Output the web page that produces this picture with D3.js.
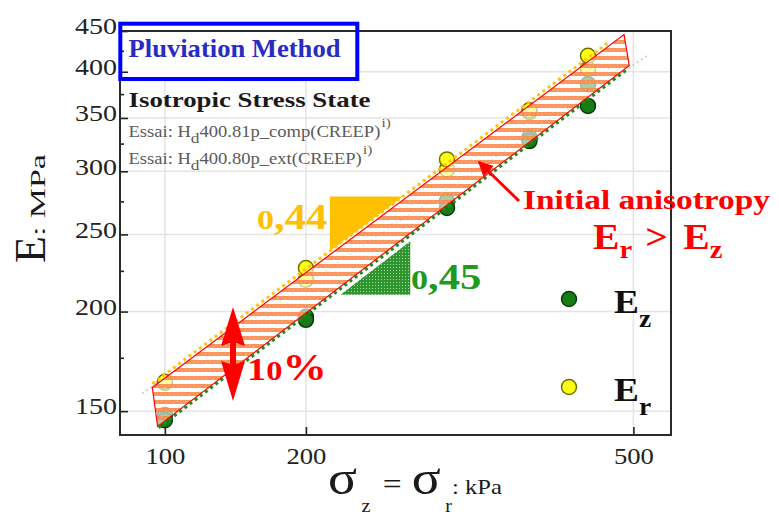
<!DOCTYPE html>
<html>
<head>
<meta charset="utf-8">
<script src="https://cdn.jsdelivr.net/npm/d3@7/dist/d3.min.js"></script>
<style>
  html, body { margin: 0; padding: 0; background: #fff; }
  svg { display: block; }
</style>
</head>
<body>
<svg id="chart" width="779" height="519"></svg>
<script>
// ---- data -------------------------------------------------------------
// confining stress levels of the creep tests (kPa)
const stress = [100, 200, 400, 600, 800];
// test Hd400.81p_comp : radial and vertical moduli (MPa)
const ErComp = [163.3, 226.8, 310.5, 358.0, 418.9];
const EzComp = [146.1, 195.3, 269.9, 327.4, 362.4];
// test Hd400.80p_ext
const ErExt = [162.7, 219.3, 301.6, 356.0, 403.0];
const EzExt = [148.3, 197.0, 275.2, 331.0, 385.9];

// power-law exponents of the fits E = A (sigma/100)^n
const slopeEr = 0.44;
const slopeEz = 0.45;
const slopeLabels = ["0,44", "0,45"];

// axis ticks
const xTickValues = [100, 200, 1000];
const xTickLabels = ["100", "200", "500"];
const yTickValues = [150, 200, 250, 300, 350, 400, 450];
const yMinorTicks = [175, 225, 275, 325, 375, 425];

// ---- layout ------------------------------------------------------------
const svg = d3.select("#chart");
const m = { left: 120, right: 671, top: 31, bottom: 435 };
const serif = "'Liberation Serif', 'Times New Roman', serif";

const x = d3.scaleLog().domain([80.2, 1203]).range([m.left, m.right]);
const y = d3.scaleLog().domain([140, 450]).range([m.bottom, m.top]);

// fitted curves
const fitEr = s => 166.8 * Math.pow(s / 100, slopeEr);
const fitEz = s => 144.9 * Math.pow(s / 100, slopeEz);
const bandTop = s => 165.0 * Math.pow(s / 100, slopeEr);
const bandBot = s => 145.8 * Math.pow(s / 100, slopeEz);
const refLine = s => 165.0 * Math.pow(s / 100, 0.393);

const defs = svg.append("defs");
const stripes = defs.append("pattern").attr("id", "stripes")
  .attr("patternUnits", "userSpaceOnUse").attr("width", 8).attr("height", 8);
stripes.append("rect").attr("width", 8).attr("height", 8)
  .attr("fill", "#fff").attr("fill-opacity", 0.62);
stripes.append("rect").attr("width", 8).attr("height", 4)
  .attr("fill", "#fa8a4e").attr("fill-opacity", 0.92);
stripes.append("rect").attr("x", 1).attr("y", 1).attr("width", 1).attr("height", 1)
  .attr("fill", "#ffc09a");
stripes.append("rect").attr("x", 5).attr("y", 2).attr("width", 1).attr("height", 1)
  .attr("fill", "#ffc09a");

const stipple = defs.append("pattern").attr("id", "stipple")
  .attr("patternUnits", "userSpaceOnUse").attr("width", 3).attr("height", 3);
stipple.append("rect").attr("width", 3).attr("height", 3).attr("fill", "#2f962f");
stipple.append("rect").attr("width", 1).attr("height", 1).attr("fill", "#a6d8a6");

defs.append("marker").attr("id", "head").attr("viewBox", "0 0 10 10")
  .attr("refX", 9).attr("refY", 5).attr("markerWidth", 5).attr("markerHeight", 5)
  .attr("orient", "auto")
  .append("path").attr("d", "M0,0 L10,5 L0,10 z").attr("fill", "#ff0000");

// text helper: horizontally widened text anchored at (px, py)
function wideText(px, py, sx) {
  return svg.append("text")
    .attr("transform", `translate(${px},${py}) scale(${sx},1)`)
    .attr("font-family", serif);
}

// ---- grid --------------------------------------------------------------
const grid = svg.append("g").attr("stroke", "#e4e4e4").attr("stroke-width", 1.5);
grid.selectAll("line.h").data(yTickValues.slice(0, -1)).join("line")
  .attr("x1", m.left).attr("x2", m.right)
  .attr("y1", d => y(d)).attr("y2", d => y(d));
grid.selectAll("line.v").data(xTickValues).join("line")
  .attr("y1", m.top).attr("y2", m.bottom)
  .attr("x1", d => x(d)).attr("x2", d => x(d));

// ---- title box (fill) --------------------------------------------------
svg.append("rect").attr("x", 120.3).attr("y", 23.7).attr("width", 237).attr("height", 55.3)
  .attr("fill", "#fff");

// ---- light reference line ---------------------------------------------
const line = d3.line().x(d => x(d[0])).y(d => y(d[1]));
svg.append("path")
  .attr("d", line([89.4, 1078].map(s => [s, refLine(s)])))
  .attr("fill", "none").attr("stroke", "#cfcfcf").attr("stroke-width", 2)
  .attr("stroke-dasharray", "2,3");

// ---- slope triangles ---------------------------------------------------
const triEr = (() => {
  const s0 = 225, eTop = 279;
  const s1 = 100 * Math.pow(eTop / 166.8, 1 / slopeEr);
  return [[s0, eTop], [s1, eTop], [s0, fitEr(s0)]];
})();
svg.append("path").attr("d", line(triEr) + "Z").attr("fill", "#ffc000");

const triEz = (() => {
  const s0 = 237, s1 = 334, eBot = 210;
  return [[s0, eBot], [s1, eBot], [s1, eBot * Math.pow(s1 / s0, slopeEz)]];
})();
svg.append("path").attr("d", line(triEz) + "Z").attr("fill", "url(#stipple)");

// ---- measured points ---------------------------------------------------
const series = [
  { E: ErExt, fill: "#ffff14", stroke: "#707000" },
  { E: EzExt, fill: "#167d16", stroke: "#0a3a0a" },
  { E: ErComp, fill: "#ffff14", stroke: "#707000" },
  { E: EzComp, fill: "#167d16", stroke: "#0a3a0a" }
];
series.forEach(sr => {
  svg.append("g").selectAll("circle").data(stress.map((s, i) => [s, sr.E[i]])).join("circle")
    .attr("cx", d => x(d[0])).attr("cy", d => y(d[1])).attr("r", 7.5)
    .attr("fill", sr.fill).attr("stroke", sr.stroke).attr("stroke-width", 1.5);
});

// ---- anisotropy band ---------------------------------------------------
const band = [[94, bandTop(94)], [955, bandTop(955)], [980, bandBot(980)], [96.5, bandBot(96.5)]];
svg.append("path").attr("d", line(band) + "Z")
  .attr("fill", "url(#stripes)").attr("stroke", "#ff0000").attr("stroke-width", 1.2);

// dotted fit lines
svg.append("path").attr("d", line([94, 880].map(s => [s, fitEr(s)])))
  .attr("fill", "none").attr("stroke", "#ffc20e").attr("stroke-width", 3)
  .attr("stroke-dasharray", "3,3.5");
svg.append("path").attr("d", line([97, 975].map(s => [s, fitEz(s)])))
  .attr("fill", "none").attr("stroke", "#1e8a1e").attr("stroke-width", 3)
  .attr("stroke-dasharray", "3,3.5");

// ---- axes --------------------------------------------------------------
const yAxis = svg.append("g").attr("transform", `translate(${m.left},0)`)
  .call(d3.axisLeft(y).tickValues(yTickValues).tickSize(-8).tickPadding(3)
    .tickFormat(d3.format("d")));
yAxis.selectAll("text").attr("font-family", serif).attr("font-size", 23)
  .attr("fill", "#222").attr("dy", "0.12em")
  .attr("textLength", 42).attr("lengthAdjust", "spacingAndGlyphs");
svg.append("g").attr("transform", `translate(${m.left},0)`)
  .call(d3.axisLeft(y).tickValues(yMinorTicks).tickSize(-4).tickFormat(""));

const xAxis = svg.append("g").attr("transform", `translate(0,${m.bottom})`)
  .call(d3.axisBottom(x).tickValues(xTickValues).tickSize(-8).tickPadding(13)
    .tickFormat((d, i) => xTickLabels[i]));
xAxis.selectAll("text").attr("font-family", serif).attr("font-size", 23).attr("fill", "#222")
  .attr("textLength", 40).attr("lengthAdjust", "spacingAndGlyphs");

svg.selectAll(".domain").remove();
svg.selectAll(".tick line").attr("stroke", "#222").attr("stroke-width", 1.6);

svg.append("rect").attr("x", m.left).attr("y", m.top)
  .attr("width", m.right - m.left).attr("height", m.bottom - m.top)
  .attr("fill", "none").attr("stroke", "#2a2a2a").attr("stroke-width", 2);

// title box (frame)
svg.append("rect").attr("x", 120.3).attr("y", 23.7).attr("width", 237).attr("height", 55.3)
  .attr("fill", "none").attr("stroke", "#0000ff").attr("stroke-width", 4);

// ---- texts -------------------------------------------------------------
svg.append("text").attr("x", 128.5).attr("y", 56.5)
  .attr("font-family", serif).attr("font-weight", "bold").attr("font-size", 25)
  .attr("fill", "#2a2ac4").attr("textLength", 212).attr("lengthAdjust", "spacingAndGlyphs")
  .text("Pluviation Method");

svg.append("text").attr("x", 128.5).attr("y", 106.5)
  .attr("font-family", serif).attr("font-weight", "bold").attr("font-size", 22)
  .attr("fill", "#1a1a1a").attr("textLength", 242).attr("lengthAdjust", "spacingAndGlyphs")
  .text("Isotropic Stress State");

const essai = [
  { base: 136.5, body: "400.81p_comp(CREEP)" },
  { base: 163.5, body: "400.80p_ext(CREEP)" }
];
essai.forEach(e => {
  const t = wideText(128.5, e.base, 1.16).attr("font-size", 16).attr("fill", "#5a5a5a");
  t.append("tspan").text("Essai: H");
  t.append("tspan").attr("dy", 6).attr("font-size", 15).text("d");
  t.append("tspan").attr("dy", -6).text(e.body);
  t.append("tspan").attr("dy", -10).attr("dx", 1).attr("font-size", 13).text("i)");
});

// y axis title
const yt = svg.append("text").attr("transform", "translate(45,263) rotate(-90)")
  .attr("font-family", serif).attr("fill", "#1a1a1a");
yt.append("tspan").attr("font-size", 44).text("E");
yt.append("tspan").attr("font-size", 21).attr("textLength", 82)
  .attr("lengthAdjust", "spacingAndGlyphs").text(": MPa");

// x axis title
const xt = wideText(328, 494, 1.12).attr("fill", "#1a1a1a");
xt.append("tspan").attr("font-size", 48).text("σ");
xt.append("tspan").attr("font-size", 18).attr("dy", 18).attr("dx", 4).text("z");
xt.append("tspan").attr("font-size", 30).attr("dy", -18).attr("dx", 11).text("=");
xt.append("tspan").attr("font-size", 48).attr("dx", 9).text("σ");
xt.append("tspan").attr("font-size", 18).attr("dy", 18).attr("dx", 4).text("r");
xt.append("tspan").attr("font-size", 22).attr("dy", -18).text(": kPa");

// slope labels (old-style looking zero)
function slopeText(px, py, label, colour) {
  const t = wideText(px, py, 1.22).attr("font-weight", "bold").attr("fill", colour);
  t.append("tspan").attr("font-size", 28).text(label[0]);
  t.append("tspan").attr("font-size", 35).text(label.slice(1));
}
slopeText(257, 229, slopeLabels[0], "#ffc000");
slopeText(411, 289, slopeLabels[1], "#1e9a1e");

// band width arrow and label
svg.append("path")
  .attr("d", "M233,307 L245,346 L236,343 L236,364 L245,361 L233,401 L221,361 L230,364 L230,343 L221,346 Z")
  .attr("fill", "#ff0000");
const pct = wideText(247, 380, 1.2).attr("font-weight", "bold").attr("fill", "#ff0000");
pct.append("tspan").attr("font-size", 32).text("1");
pct.append("tspan").attr("font-size", 27).text("0");
pct.append("tspan").attr("font-size", 37).text("%");

// anisotropy annotation
svg.append("line").attr("x1", 519).attr("y1", 201).attr("x2", 479).attr("y2", 162)
  .attr("stroke", "#ff0000").attr("stroke-width", 3).attr("marker-end", "url(#head)");
svg.append("text").attr("x", 523).attr("y", 208.5)
  .attr("font-family", serif).attr("font-weight", "bold").attr("font-size", 28)
  .attr("fill", "#ff0000").attr("textLength", 247).attr("lengthAdjust", "spacingAndGlyphs")
  .text("Initial anisotropy");

const ineq = wideText(593, 248.5, 1.1).attr("font-weight", "bold").attr("fill", "#ff0000");
ineq.append("tspan").attr("font-size", 36).text("E");
ineq.append("tspan").attr("font-size", 26).attr("dy", 9).text("r");
ineq.append("tspan").attr("font-size", 36).attr("dy", -9).attr("dx", 12).text(">");
ineq.append("tspan").attr("font-size", 36).attr("dx", 14).text("E");
ineq.append("tspan").attr("font-size", 26).attr("dy", 9).text("z");

// legend
const legend = [
  { fill: "#167d16", stroke: "#0a3a0a", sub: "z", cy: 299 },
  { fill: "#ffff14", stroke: "#707000", sub: "r", cy: 387 }
];
legend.forEach(l => {
  svg.append("circle").attr("cx", 569).attr("cy", l.cy).attr("r", 7.5)
    .attr("fill", l.fill).attr("stroke", l.stroke).attr("stroke-width", 1.5);
  const t = wideText(614, l.cy + 14, 1.1).attr("font-weight", "bold").attr("fill", "#111");
  t.append("tspan").attr("font-size", 34).text("E");
  t.append("tspan").attr("font-size", 25).attr("dy", 14).text(l.sub);
});
</script>
</body>
</html>
